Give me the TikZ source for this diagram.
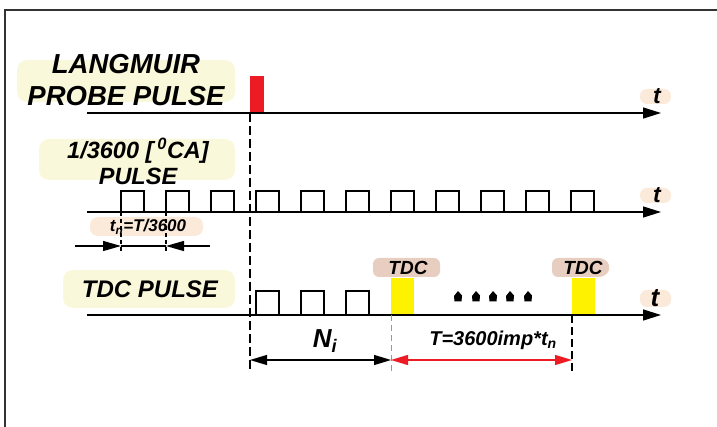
\documentclass[tikz,border=0pt]{standalone}
\usepackage{fontspec}
\setmainfont{Liberation Sans}
\usepackage{tikz}
\usetikzlibrary{shapes,arrows.meta,positioning}

\definecolor{lblYellow}{RGB}{250,248,218}
\definecolor{lblPeach}{RGB}{251,234,218}
\definecolor{lblRose}{RGB}{232,206,192}
\definecolor{pulseRed}{RGB}{237,28,36}
\definecolor{pulseYellow}{RGB}{255,242,0}

\tikzset{
  axis/.style={line width=1.4pt,-{Triangle[length=18pt,width=11pt]}},
  sig/.style={line width=1.2pt},
  lbl/.style={inner sep=0pt,align=center},
  dimline/.style={line width=1.3pt,{Triangle[length=17pt,width=10pt]}-{Triangle[length=17pt,width=10pt]}},
  guide/.style={line width=1.4pt,dash pattern=on 9pt off 4pt},
}
\newcommand{\bigbi}[2]{\fontsize{#1}{#2}\selectfont\bfseries\itshape}

\begin{document}
\begin{tikzpicture}[x=1pt,y=-1pt]
\useasboundingbox (0,0) rectangle (717,427);
% frame
\draw[line width=1.3pt,color=black!80] (717,10) -- (5,10) -- (5,427);
% label backgrounds
\fill[lblYellow,rounded corners=10pt] (17,60) rectangle (235,102);
\fill[lblYellow,rounded corners=10pt] (39,139) rectangle (235,180);
\fill[lblYellow,rounded corners=10pt] (63,270) rectangle (235,308);
\fill[lblPeach,rounded corners=8pt] (90,217) rectangle (203,236);
\fill[lblRose,rounded corners=6pt] (373,258) rectangle (440,277);
\fill[lblRose,rounded corners=6pt] (552,258) -- (605,258) -- (611,267.5) -- (605,277) -- (552,277) -- cycle;
\foreach \y/\h in {89/104,188/203,290/307}
  \fill[lblPeach,rounded corners=7pt] (640,\y) rectangle (671,\h);
% axes
\coordinate (a1s) at (87,113);  \coordinate (a1e) at (661,113);
\coordinate (a2s) at (87,212);  \coordinate (a2e) at (661,212);
\coordinate (a3s) at (87,315);  \coordinate (a3e) at (661,315);
\draw[axis] (a1s) -- (a1e);
\draw[axis] (a2s) -- (a2e);
\draw[axis] (a3s) -- (a3e);
\node[lbl,font=\bigbi{23}{24}] (t1) at (657,96) {t};
\node[lbl,font=\bigbi{23}{24}] (t2) at (657,195) {t};
\node[lbl,font=\bigbi{26}{26}] (t3) at (655,298) {t};
% langmuir pulse
\fill[pulseRed] (250,76) rectangle (264,112);
% 1/3600 pulses
\foreach \x in {121,166,...,571}
  \draw[sig] (\x,212) -- (\x,191) -- (\x+23,191) -- (\x+23,212);
% tdc row
\foreach \x in {256,301,346}
  \draw[sig] (\x,315) -- (\x,291) -- (\x+23,291) -- (\x+23,315);
\fill[pulseYellow] (391,278) rectangle (414,314);
\fill[pulseYellow] (572,278) rectangle (595,314);
\foreach \x in {458,476,493,510,528}
  \fill (\x-3.5,301.5) -- (\x-4,296) -- (\x,291) -- (\x+4,295.5) -- (\x+3.5,301.5) -- cycle;
% labels
\node[lbl,font=\bigbi{27.5}{32}] (langmuir) at (126,80) {LANGMUIR\\PROBE PULSE};
\node[lbl,font=\bigbi{23.5}{26}] (degpulse) at (138,161) {1/3600 [\,\textsuperscript{0}CA]\\PULSE};
\node[lbl,font=\bigbi{24}{24}] (tdcpulse) at (150,289) {TDC PULSE};
\node[lbl,font=\bigbi{19}{18}] (tdcA) at (408,268) {TDC};
\node[lbl,font=\bigbi{19}{18}] (tdcB) at (583,268) {TDC};
\node[lbl,font=\bigbi{17}{16}] (tnlbl) at (148,227) {t\textsubscript{n}=T/3600};
\node[lbl,font=\bigbi{26}{26}] (nilbl) at (325,341) {N\textsubscript{i}};
\node[lbl,font=\bigbi{20}{18}] (perlbl) at (493,340) {T=3600imp*t\textsubscript{n}};
% guide lines
\coordinate (g0t) at (250,113);  \coordinate (g0b) at (250,372);
\coordinate (g1t) at (391,315);  \coordinate (g1b) at (391,372);
\coordinate (g2t) at (572,315);  \coordinate (g2b) at (572,372);
\draw[guide] (g0t) -- (g0b);
\draw[line width=0.7pt,color=black!40,dash pattern=on 6pt off 4pt] (g1t) -- (g1b);
\draw[line width=1.2pt,dash pattern=on 8pt off 4pt] (g2t) -- (g2b);
% t_n dimension
\coordinate (d1t) at (121,212);  \coordinate (d1b) at (121,253);
\coordinate (d2t) at (166,212);  \coordinate (d2b) at (166,253);
\coordinate (d1m) at (121,246);  \coordinate (d2m) at (166,246);
\coordinate (dl) at (75,246);    \coordinate (dr) at (210,246);
\draw[line width=1.2pt,dash pattern=on 4pt off 3pt] (d1t) -- (d1b);
\draw[line width=1.2pt,dash pattern=on 4pt off 3pt] (d2t) -- (d2b);
\draw[line width=1.3pt,-{Triangle[length=18pt,width=10pt]}] (dl) -- (d1m);
\draw[line width=1.3pt,-{Triangle[length=18pt,width=10pt]}] (dr) -- (d2m);
\draw[line width=1.2pt] (d1m) -- (d2m);
% N_i and period arrows
\coordinate (n0) at (250,360);  \coordinate (n1) at (391,360);  \coordinate (n2) at (572,360);
\draw[dimline] (n0) -- (n1);
\draw[dimline,color=pulseRed] (n1) -- (n2);
\end{tikzpicture}
\end{document}
